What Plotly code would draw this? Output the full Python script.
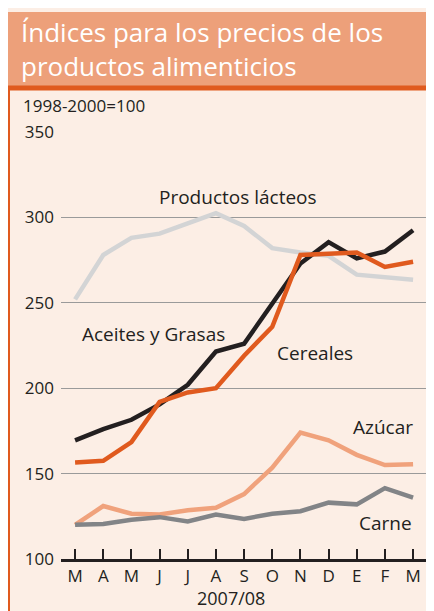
import plotly.graph_objects as go

months = ["M", "A", "M", "J", "J", "A", "S", "O", "N", "D", "E", "F", "M"]
lacteos = [252, 278, 288, 290.5, 296.5, 302.5, 295, 282, 279.5, 277.5, 266.5, 265, 263.5]
aceites = [169.5, 176, 181.5, 190.5, 202, 221.5, 226, 250, 273, 285.5, 276, 280, 292.5]
cereales = [156.5, 157.5, 168.5, 192, 197.5, 200, 219, 236, 278, 278.5, 279.5, 271, 274]
azucar = [120, 131, 126.5, 126, 128.5, 130, 138, 153.5, 174, 169.5, 161, 155, 155.5]
carne = [120, 120.5, 123, 124.5, 122, 126, 123.5, 126.5, 128, 133, 132, 141.5, 136]
y_ticks = [100, 150, 200, 250, 300, 350]

OFF = 8  # page body margin
W, H = 434 - OFF, 611 - OFF
L, R, T, B = 61, 426, 132, 559  # plot area in page pixels


def px(x):
    return (x - L) / (R - L)


def py(y):
    return (B - y) / (B - T)


x = list(range(len(months)))
fig = go.Figure()
series = [
    (lacteos, "#D3D4D5"),
    (azucar, "#F0A27C"),
    (carne, "#828487"),
    (aceites, "#231F20"),
    (cereales, "#E05A1E"),
]
for vals, col in series:
    fig.add_trace(go.Scatter(x=x, y=vals, mode="lines",
                             line=dict(color=col, width=4.5),
                             hoverinfo="skip", showlegend=False))

font = "Open Sans, Noto Sans, sans-serif"
txt = "#231F20"

shapes = [
    dict(type="rect", xref="paper", yref="paper", x0=px(0), x1=px(440),
         y0=py(86), y1=py(12), fillcolor="#EDA07A", line=dict(width=0), layer="below"),
    dict(type="rect", xref="paper", yref="paper", x0=px(7), x1=px(440),
         y0=py(90.5), y1=py(85.5), fillcolor="#E05A1E", line=dict(width=0), layer="below"),
    dict(type="rect", xref="paper", yref="paper", x0=px(0), x1=px(10),
         y0=py(620), y1=py(86), fillcolor="#E05A1E", line=dict(width=0), layer="below"),
]

annotations = [
    dict(text="Índices para los precios de los<br>productos alimenticios", xref="paper", yref="paper",
         x=px(19), y=py(49), xanchor="left", yanchor="middle", showarrow=False, align="left",
         font=dict(family=font, size=26, color="white")),
    dict(text="1998-2000=100", xref="paper", yref="paper", x=px(21), y=py(106),
         xanchor="left", yanchor="middle", showarrow=False,
         font=dict(family=font, size=17, color=txt)),
    dict(text="2007/08", xref="paper", yref="paper", x=px(231), y=py(598),
         xanchor="center", yanchor="middle", showarrow=False,
         font=dict(family=font, size=18, color=txt)),
]
labels = [
    ("Productos lácteos", 238, 197),
    ("Aceites y Grasas", 153, 334),
    ("Cereales", 315, 353),
    ("Azúcar", 383, 427),
    ("Carne", 385, 523),
]
for t, lx, ly in labels:
    annotations.append(dict(text=t, xref="paper", yref="paper", x=px(lx), y=py(ly),
                            xanchor="center", yanchor="middle", showarrow=False,
                            font=dict(family=font, size=19, color=txt)))

fig.update_layout(
    width=W, height=H,
    margin=dict(l=L - OFF, r=434 - R, t=T - OFF, b=611 - B),
    paper_bgcolor="#FCEEE5", plot_bgcolor="#FCEEE5",
    shapes=shapes, annotations=annotations,
    xaxis=dict(range=[-0.5, (R - L) / ((413 - 75) / 12) - 0.5], tickmode="array",
               tickvals=x, ticktext=months, showgrid=False, zeroline=False,
               showline=True, linecolor="#231F20", linewidth=2.5,
               ticks="inside", ticklen=10, tickwidth=2, tickcolor="#231F20",
               tickfont=dict(family=font, size=17, color=txt), fixedrange=True),
    yaxis=dict(range=[100, 350], tickmode="array", tickvals=y_ticks,
               showgrid=True, gridcolor="#9A9A9A", gridwidth=1, zeroline=False,
               showline=False, ticks="", ticklabelstandoff=6,
               tickfont=dict(family=font, size=17, color=txt), fixedrange=True),
)
fig.write_html("out.html")
